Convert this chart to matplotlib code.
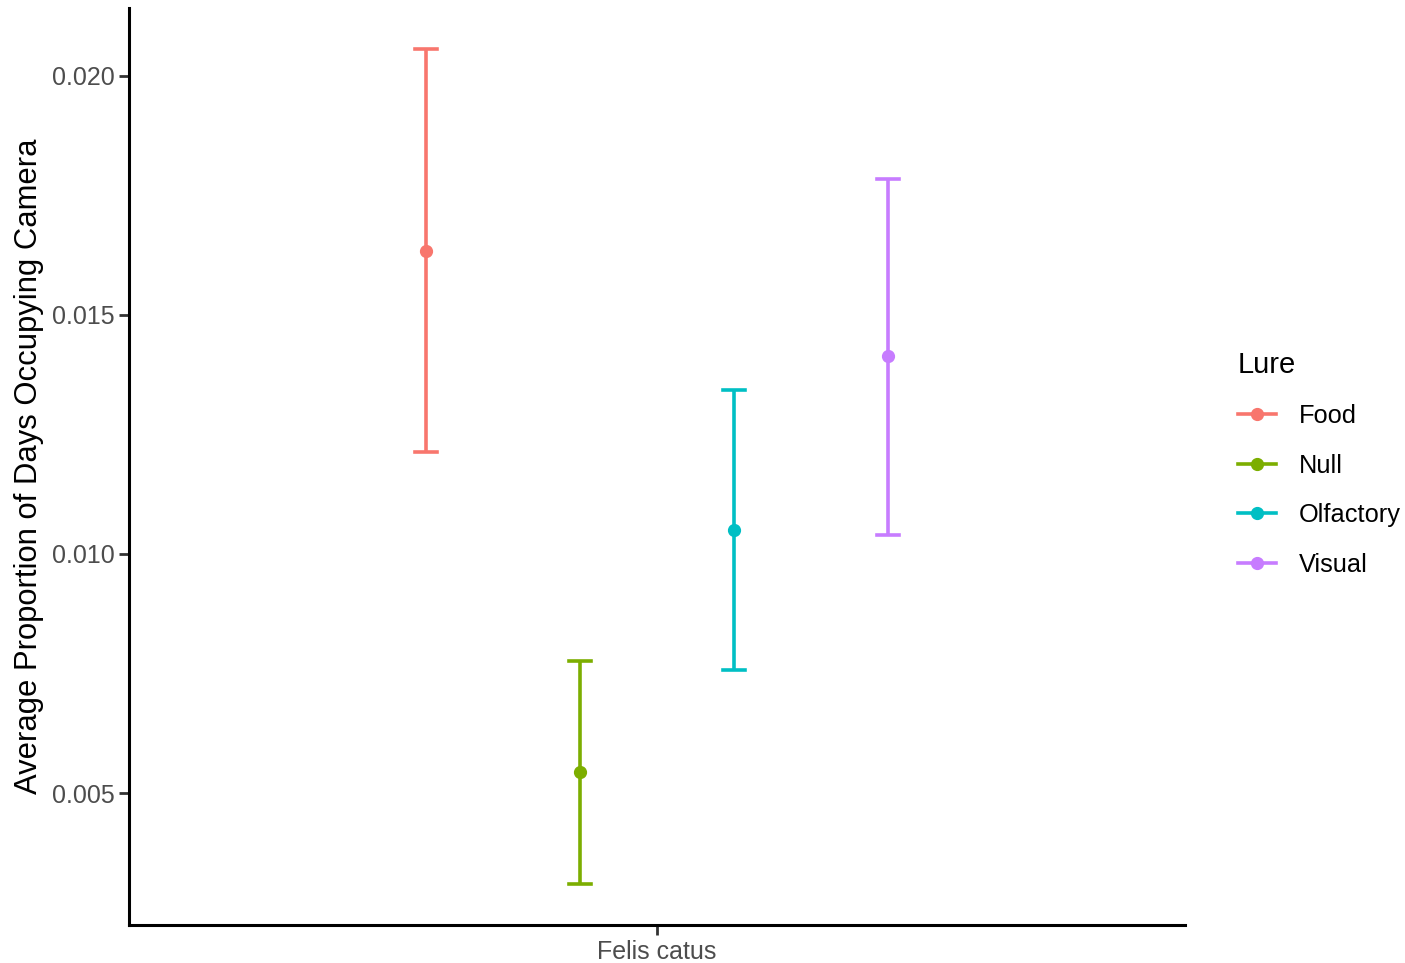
import matplotlib.pyplot as plt
from matplotlib.lines import Line2D

plt.rcParams['font.family'] = ['Liberation Sans', 'DejaVu Sans']

lures = ["Food", "Null", "Olfactory", "Visual"]
colors = ["#F8766D", "#7CAE00", "#00BFC4", "#C77CFF"]
means = [0.01634, 0.00544, 0.0105, 0.01414]
lower = [0.01213, 0.00310, 0.00757, 0.0104]
upper = [0.02056, 0.00776, 0.01343, 0.01785]
dodge = [-0.2625, -0.0875, 0.0875, 0.2625]
species = "Felis catus"

fig = plt.figure(figsize=(14.05, 9.63), dpi=100)
ax = fig.add_axes([129 / 1405, 38 / 963, 1056 / 1405, 917 / 963])

# error bars drawn by hand so the caps match ggplot's errorbar width
cap = 0.013
lw = 2.6
for i, lure in enumerate(lures):
    x = 1 + dodge[i]
    c = colors[i]
    ax.plot([x, x], [lower[i], upper[i]], color=c, lw=lw, solid_capstyle="butt")
    ax.plot([x - cap, x + cap], [lower[i], lower[i]], color=c, lw=lw)
    ax.plot([x - cap, x + cap], [upper[i], upper[i]], color=c, lw=lw)
    ax.plot([x], [means[i]], "o", color=c, ms=8.5)

ax.set_xlim(0.4, 1.6)
ax.set_ylim(0.00224, 0.02142)
ax.set_xticks([1])
ax.set_xticklabels([species])
ax.set_yticks([0.005, 0.010, 0.015, 0.020])
ax.set_yticklabels(["0.005", "0.010", "0.015", "0.020"])
ax.tick_params(labelsize=18, labelcolor="#4D4D4D", width=2, length=7, color="#333333")
ax.tick_params(axis="x", pad=4)
ax.tick_params(axis="y", pad=3)
for s in ["top", "right"]:
    ax.spines[s].set_visible(False)
for s in ["left", "bottom"]:
    ax.spines[s].set_linewidth(2.2)
ax.set_ylabel("Average Proportion of Days Occupying Camera", fontsize=22.3, labelpad=6)

handles = [Line2D([0], [0], color=c, lw=lw, marker="o", ms=8.5) for c in colors]
fig.legend(handles, lures, title="Lure", loc="upper left",
           bbox_to_anchor=(1215 / 1405, 1 - 328 / 963), frameon=False,
           fontsize=18.3, title_fontsize=21, handlelength=1.5, labelspacing=1.0,
           handletextpad=0.9, alignment="left")

fig.savefig("out.png", dpi=100)
